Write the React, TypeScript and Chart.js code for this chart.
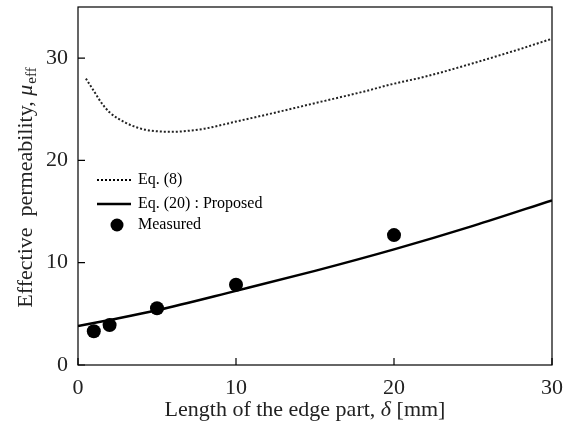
import React, { useEffect, useRef } from "react";
import { Chart, registerables } from "chart.js";

Chart.register(...registerables);

const eq8X = [0.5, 1, 1.5, 2, 3, 4, 5, 6, 7, 8, 10, 12, 15, 18, 20, 22, 25, 28, 30];
const eq8Y = [28.0, 26.8, 25.6, 24.7, 23.7, 23.1, 22.85, 22.8, 22.9, 23.1, 23.8, 24.5, 25.6, 26.7, 27.5, 28.2, 29.5, 30.9, 31.9];
const eq20X = [0, 2, 5, 10, 15, 20, 25, 30];
const eq20Y = [3.8, 4.4, 5.35, 7.25, 9.2, 11.3, 13.6, 16.1];
const measuredX = [1, 2, 5, 10, 20];
const measuredY = [3.3, 3.9, 5.55, 7.85, 12.7];
const xTicks = [0, 10, 20, 30];
const yTicks = [0, 10, 20, 30];
const legendLabels = ["Eq. (8)", "Eq. (20) : Proposed", "Measured"];

const SERIF = "'Liberation Serif', 'Times New Roman', serif";
const TITLE_SIZE = 22;

const decorPlugin = {
  id: "decor",
  afterDraw(chart: any) {
    const { ctx, chartArea } = chart;
    const { left, right, top, bottom } = chartArea;
    const xs = chart.scales.x;
    const ys = chart.scales.y;
    ctx.save();
    ctx.strokeStyle = "#000";
    ctx.lineWidth = 1.2;
    ctx.strokeRect(left, top, right - left, bottom - top);
    ctx.beginPath();
    for (const t of xTicks) {
      const px = xs.getPixelForValue(t);
      ctx.moveTo(px, bottom);
      ctx.lineTo(px, bottom - 7);
    }
    for (const t of yTicks) {
      const py = ys.getPixelForValue(t);
      ctx.moveTo(left, py);
      ctx.lineTo(left + 7, py);
    }
    ctx.stroke();

    // Legend
    const lx0 = left + 19;
    const lx1 = left + 53;
    const tx = left + 60;
    const rows = [top + 173, top + 197, top + 218];
    ctx.fillStyle = "#000";
    ctx.font = `16px ${SERIF}`;
    ctx.textBaseline = "middle";
    ctx.textAlign = "left";
    ctx.beginPath();
    ctx.setLineDash([2, 2]);
    ctx.lineWidth = 2;
    ctx.moveTo(lx0, rows[0]);
    ctx.lineTo(lx1, rows[0]);
    ctx.stroke();
    ctx.setLineDash([]);
    ctx.fillText(legendLabels[0], tx, rows[0]);
    ctx.beginPath();
    ctx.lineWidth = 2.5;
    ctx.moveTo(lx0, rows[1]);
    ctx.lineTo(lx1, rows[1]);
    ctx.stroke();
    ctx.fillText(legendLabels[1], tx, rows[1]);
    ctx.beginPath();
    ctx.arc(left + 39, rows[2], 6.5, 0, Math.PI * 2);
    ctx.fill();
    ctx.fillText(legendLabels[2], tx, rows[2]);

    // X title
    ctx.fillStyle = "#222";
    ctx.textBaseline = "alphabetic";
    const xa = "Length of the edge part, ";
    const xb = "\u03b4";
    const xc = " [mm]";
    ctx.font = `${TITLE_SIZE}px ${SERIF}`;
    const wa = ctx.measureText(xa).width;
    const wc = ctx.measureText(xc).width;
    ctx.font = `italic ${TITLE_SIZE}px ${SERIF}`;
    const wb = ctx.measureText(xb).width;
    let x = 305 - (wa + wb + wc) / 2;
    const yb = 416;
    ctx.font = `${TITLE_SIZE}px ${SERIF}`;
    ctx.fillText(xa, x, yb);
    x += wa;
    ctx.font = `italic ${TITLE_SIZE}px ${SERIF}`;
    ctx.fillText(xb, x, yb);
    x += wb;
    ctx.font = `${TITLE_SIZE}px ${SERIF}`;
    ctx.fillText(xc, x, yb);

    // Y title (rotated)
    ctx.save();
    ctx.translate(32, 188);
    ctx.rotate(-Math.PI / 2);
    const ya = "Effective  permeability, ";
    const yMu = "\u03bc";
    const ySub = "eff";
    ctx.font = `${TITLE_SIZE}px ${SERIF}`;
    const wya = ctx.measureText(ya).width;
    ctx.font = `italic ${TITLE_SIZE}px ${SERIF}`;
    const wmu = ctx.measureText(yMu).width;
    ctx.font = `15px ${SERIF}`;
    const wsub = ctx.measureText(ySub).width;
    let y0 = -(wya + wmu + wsub) / 2;
    ctx.font = `${TITLE_SIZE}px ${SERIF}`;
    ctx.fillText(ya, y0, 0);
    y0 += wya;
    ctx.font = `italic ${TITLE_SIZE}px ${SERIF}`;
    ctx.fillText(yMu, y0, 0);
    y0 += wmu;
    ctx.font = `15px ${SERIF}`;
    ctx.fillText(ySub, y0 + 1, 4);
    ctx.restore();

    ctx.restore();
  },
};

export default function App() {
  const ref = useRef<HTMLCanvasElement>(null);
  useEffect(() => {
    if (!ref.current) return;
    const chart = new Chart(ref.current, {
      type: "line",
      data: {
        datasets: [
          {
            label: legendLabels[0],
            data: eq8X.map((v, i) => ({ x: v, y: eq8Y[i] })),
            borderColor: "#222",
            borderWidth: 2,
            borderDash: [2, 2],
            pointRadius: 0,
            cubicInterpolationMode: "monotone",
            fill: false,
          },
          {
            label: legendLabels[1],
            data: eq20X.map((v, i) => ({ x: v, y: eq20Y[i] })),
            borderColor: "#000",
            borderWidth: 2.5,
            pointRadius: 0,
            cubicInterpolationMode: "monotone",
            fill: false,
          },
          {
            label: legendLabels[2],
            data: measuredX.map((v, i) => ({ x: v, y: measuredY[i] })),
            showLine: false,
            pointRadius: 7,
            pointBackgroundColor: "#000",
            pointBorderColor: "#000",
            pointBorderWidth: 0,
          },
        ],
      },
      plugins: [decorPlugin],
      options: {
        animation: false,
        responsive: false,
        layout: { padding: { top: 4, right: 22, left: 0, bottom: 0 } },
        plugins: { legend: { display: false }, tooltip: { enabled: false } },
        scales: {
          x: {
            type: "linear",
            min: 0,
            max: 30,
            afterBuildTicks: (s: any) => {
              s.ticks = xTicks.map((v) => ({ value: v }));
            },
            afterFit: (s: any) => {
              s.height = 65;
              s.paddingLeft = 0;
              s.paddingRight = 0;
            },
            grid: { display: false, drawTicks: false },
            border: { display: false },
            ticks: {
              color: "#222",
              padding: 10,
              font: { family: SERIF, size: 22 },
              maxRotation: 0,
            },
          },
          y: {
            type: "linear",
            min: 0,
            max: 35,
            afterBuildTicks: (s: any) => {
              s.ticks = yTicks.map((v) => ({ value: v }));
            },
            afterFit: (s: any) => {
              s.width = 78;
              s.paddingTop = 0;
              s.paddingBottom = 0;
            },
            grid: { display: false, drawTicks: false },
            border: { display: false },
            ticks: {
              color: "#222",
              padding: 10,
              font: { family: SERIF, size: 22 },
            },
          },
        },
      },
    } as any);
    return () => chart.destroy();
  }, []);
  return (
    <div style={{ position: "fixed", left: 0, top: 0, width: 574, height: 430, background: "#fff" }}>
      <canvas ref={ref} width={574} height={430} />
    </div>
  );
}
